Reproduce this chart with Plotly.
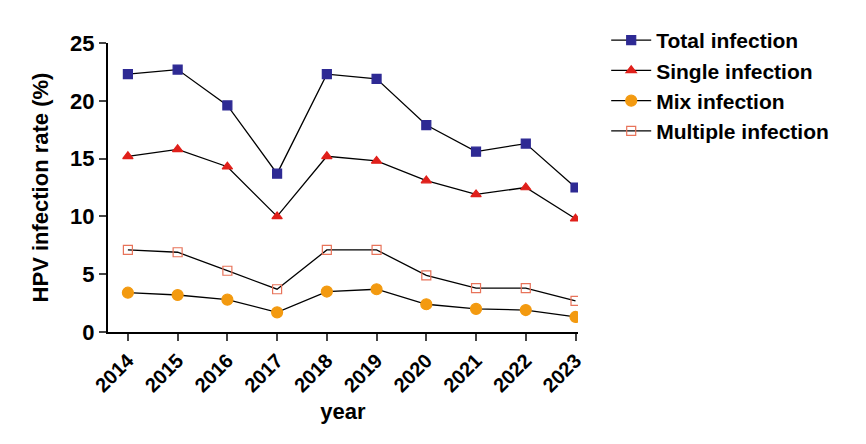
import plotly.graph_objects as go

years = [2014, 2015, 2016, 2017, 2018, 2019, 2020, 2021, 2022, 2023]
total = [22.3, 22.7, 19.6, 13.7, 22.3, 21.9, 17.9, 15.6, 16.3, 12.5]
single = [15.2, 15.8, 14.3, 10.0, 15.2, 14.8, 13.1, 11.9, 12.5, 9.8]
mix = [3.4, 3.2, 2.8, 1.7, 3.5, 3.7, 2.4, 2.0, 1.9, 1.3]
multiple = [7.1, 6.9, 5.3, 3.7, 7.1, 7.1, 4.9, 3.8, 3.8, 2.7]

fig = go.Figure()
def add(name, y, sym, color, size, fill=None):
    fig.add_trace(go.Scatter(
        x=years, y=y, name=name, mode="lines+markers",
        line=dict(color="black", width=1.3),
        marker=dict(symbol=sym, size=size, color=fill or color,
                    line=dict(color=color, width=1.2))))

add("Total infection", total, "square", "#2e2a94", 9)
add("Single infection", single, "triangle-up", "#e0201b", 9)
add("Mix infection", mix, "circle", "#f39a10", 11)
add("Multiple infection", multiple, "square-open", "#e8735a", 9)

fam = "Arial, Liberation Sans"
fig.update_layout(
    width=866, height=444, paper_bgcolor="white", plot_bgcolor="white",
    margin=dict(l=100, r=296, t=24, b=120),
    font=dict(family=fam, size=20, color="black"),
    legend=dict(x=1.06, y=1.08, xanchor="left", yanchor="top",
                font=dict(family=fam, size=21, color="black", weight="bold"),
                itemwidth=40),
    xaxis=dict(range=[2013.6, 2023.05], tickvals=years, ticktext=[str(y) for y in years],
               tickangle=-45, showline=True, linecolor="black", linewidth=2,
               ticks="outside", ticklen=7, tickwidth=2, showgrid=False, zeroline=False,
               tickfont=dict(family=fam, size=20, weight="bold"),
               title=dict(text="<b>year</b>", font=dict(size=22), standoff=8)),
    yaxis=dict(range=[0, 25], tickvals=[0, 5, 10, 15, 20, 25],
               showline=True, linecolor="black", linewidth=2,
               ticks="outside", ticklen=7, tickwidth=2, showgrid=False, zeroline=False,
               tickfont=dict(family=fam, size=22, weight="bold"),
               title=dict(text="<b>HPV infection rate (%)</b>", font=dict(size=22))),
)
fig.write_html("out.html")
